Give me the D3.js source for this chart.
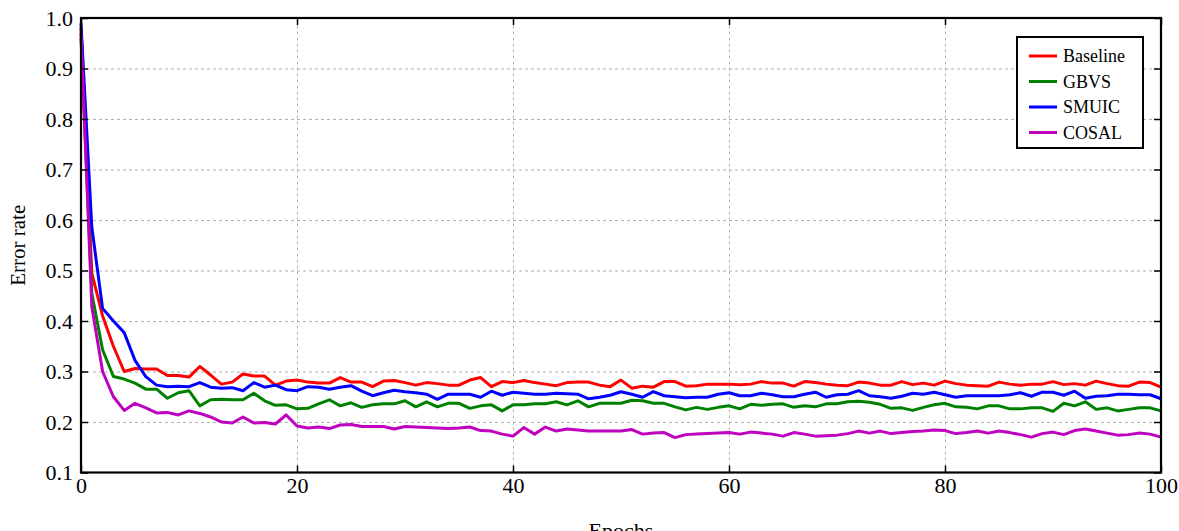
<!DOCTYPE html>
<html>
<head>
<meta charset="utf-8">
<script src="https://cdn.jsdelivr.net/npm/d3@7"></script>
<style>
  html, body { margin: 0; padding: 0; background: #fff; overflow: hidden; }
  svg text { font-family: "Liberation Serif", "Times New Roman", Times, "DejaVu Serif", serif; }
</style>
</head>
<body>
<script>
const w = 1179;
const h = 531;

// one value per epoch, 0..100
const baseline = [
    0.98, 0.495, 0.41, 0.35, 0.30, 0.306, 0.305, 0.305, 0.292, 0.292,
    0.289, 0.31, 0.293, 0.275, 0.279, 0.295, 0.291, 0.291, 0.273, 0.281,
    0.283, 0.279, 0.277, 0.277, 0.288, 0.279, 0.279, 0.27, 0.281, 0.282,
    0.278, 0.273, 0.278, 0.276, 0.273, 0.273, 0.283, 0.288, 0.27, 0.28,
    0.278, 0.282, 0.278, 0.275, 0.272, 0.278, 0.279, 0.279, 0.273, 0.27,
    0.283, 0.267, 0.271, 0.269, 0.28, 0.28, 0.271, 0.272, 0.275, 0.275,
    0.275, 0.274, 0.275, 0.28, 0.277, 0.277, 0.271, 0.28, 0.278, 0.275,
    0.273, 0.272, 0.279, 0.277, 0.273, 0.273, 0.28, 0.274, 0.277, 0.273,
    0.281, 0.276, 0.273, 0.272, 0.271, 0.279, 0.275, 0.273, 0.275, 0.275,
    0.28, 0.274, 0.276, 0.273, 0.281, 0.276, 0.272, 0.271, 0.279, 0.278,
    0.269,
];
const gbvs = [
    0.96, 0.455, 0.343, 0.29, 0.285, 0.277, 0.265, 0.265, 0.247, 0.258,
    0.262, 0.232, 0.244, 0.245, 0.244, 0.244, 0.257, 0.242, 0.233, 0.234,
    0.226, 0.227, 0.236, 0.244, 0.232, 0.238, 0.229, 0.234, 0.236, 0.236,
    0.242, 0.23, 0.24, 0.23, 0.237, 0.237, 0.227, 0.232, 0.234, 0.222,
    0.234, 0.234, 0.236, 0.236, 0.24, 0.234, 0.242, 0.23, 0.237, 0.237,
    0.237, 0.243, 0.242, 0.237, 0.237, 0.23, 0.224, 0.229, 0.225, 0.229,
    0.232, 0.226, 0.235, 0.233, 0.235, 0.236, 0.229, 0.232, 0.23, 0.236,
    0.236, 0.24, 0.241, 0.239, 0.235, 0.227, 0.228, 0.223, 0.229, 0.234,
    0.237, 0.23, 0.229, 0.226, 0.232, 0.232, 0.226, 0.226, 0.228, 0.228,
    0.221, 0.237, 0.232, 0.24, 0.225, 0.228, 0.222, 0.225, 0.228, 0.228,
    0.222,
];
const smuic = [
    0.99, 0.586, 0.425, 0.40, 0.377, 0.322, 0.29, 0.273, 0.27, 0.271,
    0.27, 0.278, 0.269, 0.267, 0.268, 0.262, 0.278, 0.269, 0.273, 0.264,
    0.262, 0.27, 0.269, 0.265, 0.269, 0.272, 0.261, 0.252, 0.258, 0.263,
    0.26, 0.258, 0.255, 0.245, 0.255, 0.255, 0.255, 0.249, 0.261, 0.253,
    0.259, 0.257, 0.255, 0.255, 0.257, 0.256, 0.255, 0.246, 0.249, 0.253,
    0.26, 0.255, 0.249, 0.26, 0.252, 0.25, 0.248, 0.249, 0.249, 0.255,
    0.258, 0.252, 0.252, 0.257, 0.254, 0.25, 0.25, 0.255, 0.259, 0.249,
    0.254, 0.255, 0.262, 0.252, 0.25, 0.247, 0.251, 0.257, 0.255, 0.259,
    0.254, 0.249, 0.252, 0.252, 0.252, 0.252, 0.254, 0.258, 0.251, 0.259,
    0.259, 0.253, 0.261, 0.247, 0.251, 0.252, 0.255, 0.255, 0.254, 0.254,
    0.246,
];
const cosal = [
    0.97, 0.428, 0.30, 0.25, 0.223, 0.237, 0.228, 0.218, 0.219, 0.214,
    0.222, 0.217, 0.21, 0.20, 0.198, 0.21, 0.198, 0.199, 0.196, 0.214,
    0.192, 0.188, 0.19, 0.187, 0.194, 0.195, 0.191, 0.191, 0.191, 0.186,
    0.191, 0.19, 0.189, 0.188, 0.187, 0.188, 0.19, 0.183, 0.182, 0.176,
    0.172, 0.189, 0.176, 0.19, 0.182, 0.186, 0.184, 0.182, 0.182, 0.182,
    0.182, 0.185, 0.176, 0.178, 0.179, 0.169, 0.175, 0.176, 0.177, 0.178,
    0.179, 0.176, 0.18, 0.178, 0.176, 0.172, 0.179, 0.176, 0.172, 0.173,
    0.174, 0.177, 0.182, 0.178, 0.182, 0.177, 0.179, 0.181, 0.182, 0.184,
    0.183, 0.177, 0.179, 0.182, 0.178, 0.182, 0.179, 0.175, 0.17, 0.177,
    0.18, 0.175, 0.183, 0.186, 0.182, 0.178, 0.174, 0.175, 0.178, 0.176,
    0.17,
];

const seriesNames = ["Baseline", "GBVS", "SMUIC", "COSAL"];
const seriesValues = [baseline, gbvs, smuic, cosal];
const seriesColors = ["#ff0000", "#008000", "#0000ff", "#bf00bf"];
const xTicks = [0, 20, 40, 60, 80, 100];
const yTicks = [0.1, 0.2, 0.3, 0.4, 0.5, 0.6, 0.7, 0.8, 0.9, 1.0];

const serif = "'Liberation Serif', 'Times New Roman', Times, 'DejaVu Serif', serif";

const margin = { top: 18, right: 18, bottom: 58.5, left: 81 };
const iw = w - margin.left - margin.right;
const ih = h - margin.top - margin.bottom;

const x = d3.scaleLinear().domain([0, 100]).range([0, iw]);
const y = d3.scaleLinear().domain([0.1, 1.0]).range([ih, 0]);

const svg = d3
    .select("body")
    .append("svg")
    .attr("width", w)
    .attr("height", h)
    .attr("font-family", serif);

const chart = svg.append("g").attr("transform", `translate(${margin.left},${margin.top})`);

// dashed grid
chart
    .append("g")
    .attr("class", "grid")
    .attr("transform", `translate(0,${ih})`)
    .call(d3.axisBottom(x).tickValues(xTicks.slice(1, -1)).tickSize(-ih).tickFormat(""))
    .call(g => g.select(".domain").remove());
chart
    .append("g")
    .attr("class", "grid")
    .call(d3.axisLeft(y).tickValues(yTicks.slice(1, -1)).tickSize(-iw).tickFormat(""))
    .call(g => g.select(".domain").remove());
chart
    .selectAll(".grid line")
    .attr("stroke", "#b0b0b0")
    .attr("stroke-width", 1)
    .attr("stroke-dasharray", "3,3");

// lines
const line = d3
    .line()
    .x((d, i) => x(i))
    .y(d => y(d));

seriesValues.forEach((vals, k) => {
    chart
        .append("path")
        .datum(vals)
        .attr("fill", "none")
        .attr("stroke", seriesColors[k])
        .attr("stroke-width", 3)
        .attr("stroke-linejoin", "round")
        .attr("d", line);
});

// axes with inward ticks on all four sides
const fmt = d3.format(".1f");
chart
    .append("g")
    .attr("class", "ax")
    .call(d3.axisLeft(y).tickValues(yTicks).tickFormat(fmt).tickSize(-7).tickPadding(8));
chart
    .append("g")
    .attr("class", "ax")
    .attr("transform", `translate(${iw},0)`)
    .call(d3.axisRight(y).tickValues(yTicks).tickFormat("").tickSize(-7));
chart
    .append("g")
    .attr("class", "ax")
    .attr("transform", `translate(0,${ih})`)
    .call(d3.axisBottom(x).tickValues(xTicks).tickSize(-7).tickPadding(5));
chart
    .append("g")
    .attr("class", "ax")
    .call(d3.axisTop(x).tickValues(xTicks).tickFormat("").tickSize(-7));

chart.selectAll(".ax").attr("font-family", serif).attr("font-size", 22);
chart.selectAll(".ax .domain").remove();
chart.selectAll(".ax line").attr("stroke", "#000").attr("stroke-width", 1.5);
chart.selectAll(".ax text").attr("fill", "#000");

chart
    .append("rect")
    .attr("width", iw)
    .attr("height", ih)
    .attr("fill", "none")
    .attr("stroke", "#000")
    .attr("stroke-width", 2.2);

// axis titles
svg
    .append("text")
    .attr("x", margin.left + iw / 2)
    .attr("y", 538)
    .attr("text-anchor", "middle")
    .attr("font-size", 22)
    .text("Epochs");

svg
    .append("text")
    .attr("transform", `translate(25,${margin.top + ih / 2}) rotate(-90)`)
    .attr("text-anchor", "middle")
    .attr("font-size", 21)
    .text("Error rate");

// legend
const legend = svg.append("g").attr("transform", "translate(1017,37)");
legend
    .append("rect")
    .attr("width", 126)
    .attr("height", 111)
    .attr("fill", "#fff")
    .attr("stroke", "#000")
    .attr("stroke-width", 2);

const items = legend
    .selectAll(".item")
    .data(seriesNames)
    .enter()
    .append("g")
    .attr("transform", (d, i) => `translate(0,${19 + i * 25.5})`);

items
    .append("line")
    .attr("x1", 12)
    .attr("x2", 40)
    .attr("stroke", (d, i) => seriesColors[i])
    .attr("stroke-width", 3);

items
    .append("text")
    .attr("x", 46)
    .attr("dy", "0.35em")
    .attr("font-size", 18)
    .text(d => d);
</script>
</body>
</html>
